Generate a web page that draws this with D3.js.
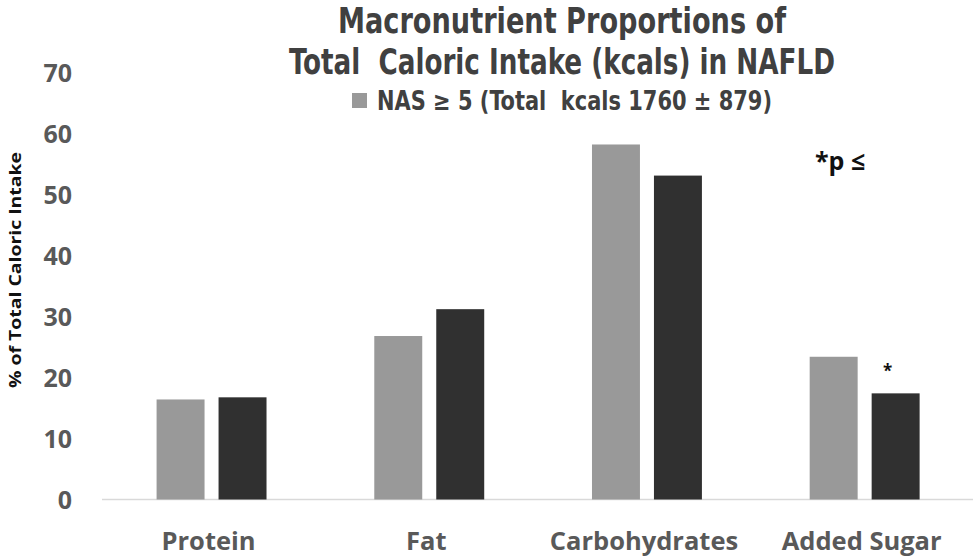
<!DOCTYPE html>
<html><head><meta charset="utf-8">
<script src="https://cdn.jsdelivr.net/npm/d3@7"></script>
<style>body{margin:0;background:#fff}svg{display:block}text{white-space:pre}</style>
</head><body>
<svg id="c" width="978" height="558"></svg>
<script>
const categories = ["Protein", "Fat", "Carbohydrates", "Added Sugar"];
const seriesNames = ["NAS \u2265 5 (Total  kcals 1760 \u00b1 879)", "NAS < 5"];
const seriesA = [16.4, 26.8, 58.2, 23.4];
const seriesB = [16.75, 31.2, 53.1, 17.4];
const yTicks = [0, 10, 20, 30, 40, 50, 60, 70];
const titleLines = ["Macronutrient Proportions of", "Total  Caloric Intake (kcals) in NAFLD"];
const yTitle = "% of Total Caloric Intake";
const sigNote = "*p \u2264";
const sigMarks = ["", "", "", "*"];

const svg = d3.select("#c");
const colors = ["#999999", "#303030"];
const narrow = "'Liberation Sans Narrow','DejaVu Sans Condensed','Open Sans',sans-serif";
const bold = "'Open Sans','DejaVu Sans',sans-serif";

const x0 = d3.scaleBand().domain(categories).range([102.7, 973.5]).paddingInner(0.495).paddingOuter(0.2475);
const x1 = d3.scaleBand().domain([0, 1]).range([0, x0.bandwidth()]).paddingInner(0.226).paddingOuter(0);
const y = d3.scaleLinear().domain([0, 70]).range([499.5, 72.5]);

// baseline
svg.append("line").attr("x1", 102).attr("x2", 973).attr("y1", y(0)).attr("y2", y(0))
  .attr("stroke", "#d9d9d9").attr("stroke-width", 1.5);

// y axis labels
const yAxis = d3.axisLeft(y).tickValues(yTicks).tickSize(0).tickPadding(0);
const ga = svg.append("g").attr("transform", "translate(72,0)").call(yAxis);
ga.select(".domain").remove();
ga.selectAll("text").attr("font-family", bold).attr("font-weight", "bold").attr("font-size", 25)
  .attr("fill", "#595959").attr("dy", "0.34em");

// bars
const series = [seriesA, seriesB];
series.forEach((vals, si) => {
  svg.append("g").selectAll("rect").data(categories).join("rect")
    .attr("x", d => x0(d) + x1(si))
    .attr("width", x1.bandwidth())
    .attr("y", (d, i) => y(vals[i]))
    .attr("height", (d, i) => y(0) - y(vals[i]))
    .attr("fill", colors[si]);
});

// significance marks
svg.append("g").selectAll("text").data(categories).join("text")
  .attr("x", d => x0(d) + x1(1) + x1.bandwidth() / 2 - 8)
  .attr("y", (d, i) => y(seriesB[i]) - 16)
  .attr("text-anchor", "middle")
  .attr("font-family", bold).attr("font-weight", "bold").attr("font-size", 17).attr("fill", "#111")
  .text((d, i) => sigMarks[i]);

// x labels
const xAxis = d3.axisBottom(x0).tickSize(0).tickPadding(0);
const gx = svg.append("g").call(xAxis);
gx.select(".domain").remove();
gx.selectAll("text").attr("font-family", bold).attr("font-weight", "bold").attr("font-size", 25.5)
  .attr("fill", "#595959").attr("y", 550).attr("dy", 0).attr("dx", -3);

// y title
svg.append("text").attr("transform", "translate(21,270) rotate(-90)")
  .attr("text-anchor", "middle").attr("font-family", bold).attr("font-weight", "bold")
  .attr("font-size", 16).attr("fill", "#111")
  .attr("textLength", 236).attr("lengthAdjust", "spacingAndGlyphs").text(yTitle);

// title
const tw = [448, 546];
titleLines.forEach((t, i) => {
  svg.append("text").attr("x", 562).attr("y", 33 + i * 41).attr("text-anchor", "middle")
    .attr("font-family", narrow).attr("font-weight", "bold").attr("font-size", 35).attr("fill", "#404040")
    .attr("textLength", tw[i]).attr("lengthAdjust", "spacingAndGlyphs").text(t);
});

// legend (first series only)
svg.append("rect").attr("x", 352).attr("y", 93).attr("width", 15).attr("height", 15).attr("fill", colors[0]);
svg.append("text").attr("x", 377).attr("y", 110).attr("font-family", narrow).attr("font-weight", "bold")
  .attr("font-size", 26).attr("fill", "#404040").attr("textLength", 395).attr("lengthAdjust", "spacingAndGlyphs")
  .text(seriesNames[0]);

// note
svg.append("text").attr("x", 815).attr("y", 170).attr("font-family", bold).attr("font-weight", "bold")
  .attr("font-size", 25).attr("fill", "#111").text(sigNote);
</script>
</body></html>
